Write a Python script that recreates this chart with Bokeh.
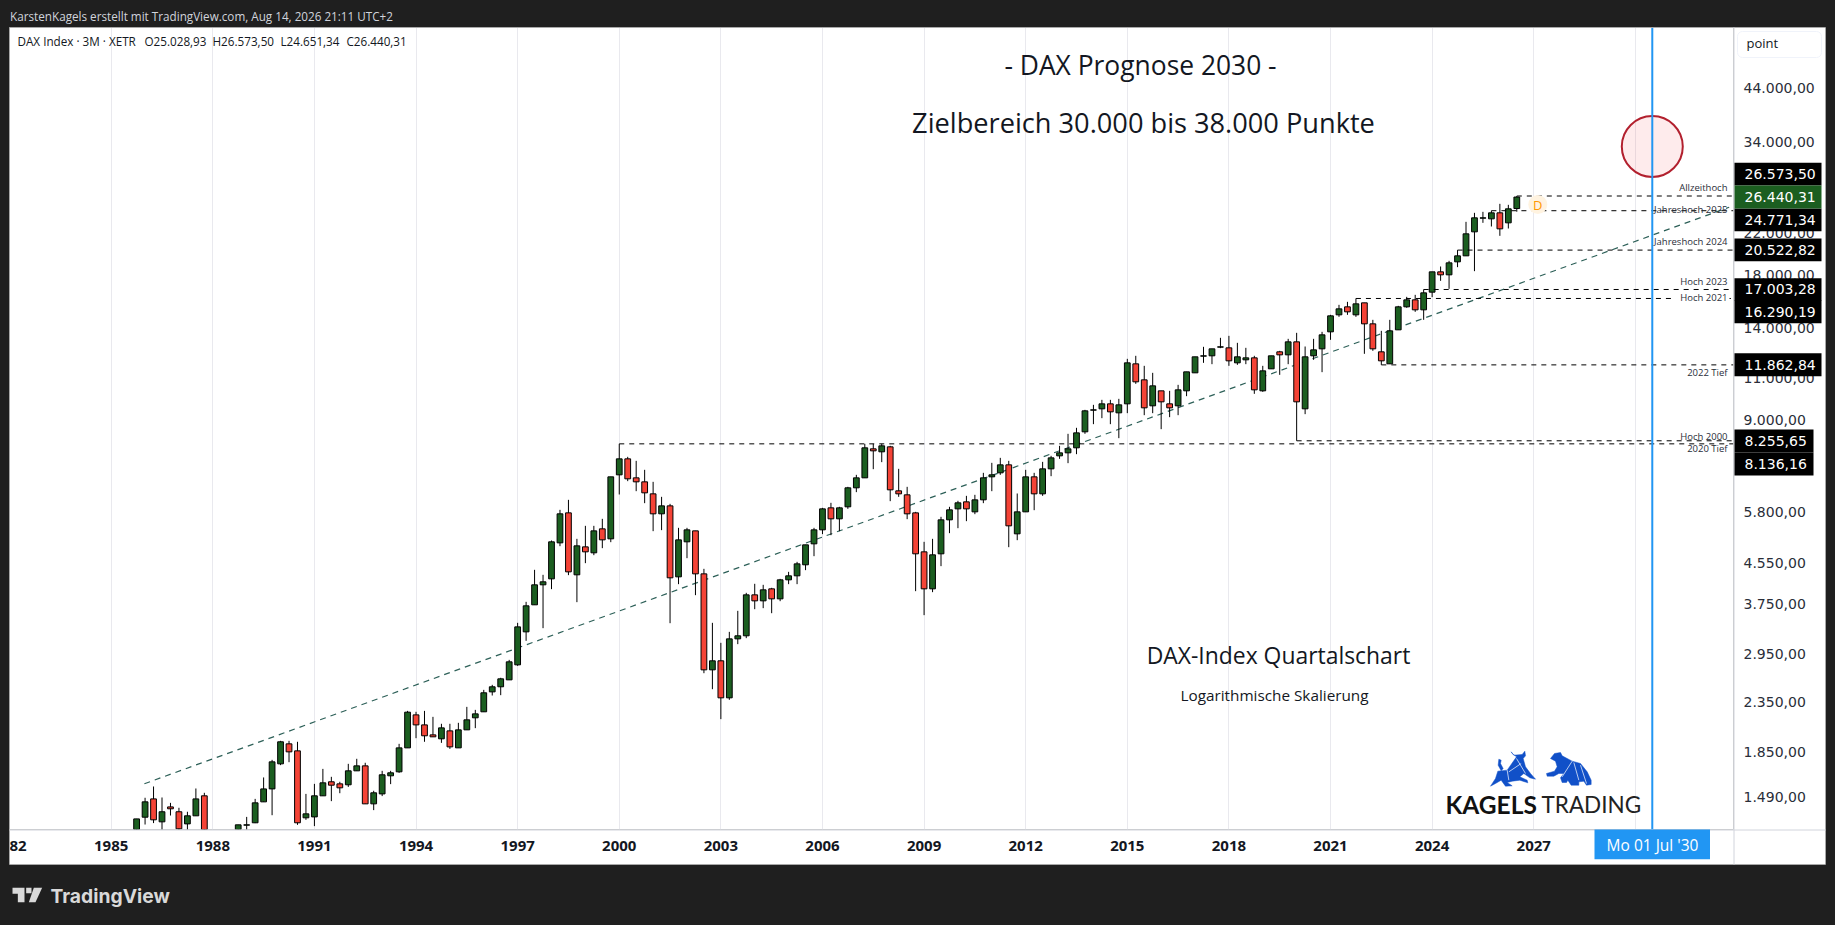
import math
from bokeh.plotting import figure
from bokeh.embed import file_html
from bokeh.resources import INLINE
from bokeh.core.properties import value
from bokeh.models import Span, FixedTicker, Range1d, LogAxis, LogScale

# ---------- data ----------
quarter_index = [*range(3, 12), *range(15, 167)]   # quarters since 1985 Q1
body_top = [1357,1472,1493,1404,1437,1404,1377,1493,1515,
 1319,1319,1465,1566,1782,1961,1942,1878,1390,1515,
 1612,1620,1604,1707,1748,1748,1537,1675,1691,1905,
 2259,2230,2126,2027,2096,2066,2076,2178,2241,2478,
 2550,2649,2873,3395,3754,4150,4210,5096,5825,5852,
 4999,4975,5370,5422,6950,7574,7574,6917,6786,6408,
 6051,6051,5144,5396,5370,4373,2887,2887,3206,3253,
 3956,3956,4052,4071,4250,4332,4587,5023,5396,5965,
 5994,5994,6595,6917,7983,7945,8059,8021,6501,6378,
 5852,4858,4789,5660,5937,6139,6168,6227,6917,7017,
 7360,7360,5880,6950,6950,7221,7610,7794,7945,8575,
 9525,9571,9849,9849,9802,11979,11922,11045,10733,10480,
 9849,10530,11475,12328,12387,12808,12931,12869,12328,12269,
 12269,11530,12387,12626,13243,13243,12328,12747,13693,14994,
 15504,15652,15878,15954,14432,12626,13957,15652,16184,16184,
 16735,18500,18500,19312,19969,22181,23942,23942,24521,24521,24994,26440.31]
body_bottom = [1224,1368,1351,1338,1424,1294,1325,1377,979,
 1224,1317,1332,1472,1566,1765,1869,1332,1364,1370,
 1515,1594,1574,1597,1707,1458,1458,1529,1667,1699,
 1905,2126,2018,2008,1989,1914,1905,2076,2199,2263,
 2489,2550,2636,2832,3315,3772,4150,4270,5071,4415,
 4353,4858,4835,5144,5169,7017,6884,6786,6439,5825,
 5825,4291,4311,5096,4373,2765,2765,2419,2419,3206,
 3253,3844,3844,3881,3881,4250,4332,4566,5047,5396,
 5687,5687,6023,6595,6917,7869,7832,6532,6408,5825,
 4812,4071,4071,4812,5660,5965,5965,5880,6227,6950,
 7084,5500,5294,5880,6408,6408,7221,7683,7794,7983,
 8617,9556,9617,9480,9435,9849,10940,9663,9756,9944,
 9663,9756,10480,11421,12367,12387,12910,12094,11979,12152,
 10530,10480,11641,12446,12446,9944,9617,12387,12808,13891,
 15066,15283,15066,14432,12808,12094,11922,14024,15652,15430,
 15430,16788,18237,18237,19405,19969,22394,23904,23828,22717,23377,25028.93]
high = [1357,1501,1584,1503,1465,1431,1404,1569,1537,
 1319,1370,1493,1654,1799,1970,1970,1961,1529,1604,
 1723,1659,1620,1765,1808,1774,1552,1707,1707,1942,
 2273,2263,2273,2209,2137,2137,2147,2317,2284,2513,
 2574,2662,2900,3461,3826,4458,4353,5128,5937,6227,
 5169,5500,5500,5687,6950,8136.16,7647,7502,7187,6786,
 6317,6109,5448,5448,5370,4479,3461,3146,3315,3665,
 3994,4170,4150,4091,4270,4415,4631,5023,5448,5994,
 6139,6023,6626,7017,8137,8137,8137,8059,7221,6626,
 5880,5096,5169,5742,6023,6198,6347,6378,7084,7431,
 7610,7502,6419,7187,7084,7466,7683,8059,8535,8783,
 9571,9802,10039,10039,10087,12210,12387,11809,11421,10480,
 10480,10785,11475,12328,12931,12808,13499,13628,13180,12869,
 12387,11809,12387,12686,13434,13825,12951,13434,13891,15066,
 15803,16031,16290.19,15954,14710,13957,14710,15727,16418,16576,
 17003.28,18500,18977,19498,20522.82,23489,24521,24638,24771.34,25598,25476,26573.50]
low = [1205,1321,1330,1280,1379,1274,1280,1377,919,
 1205,1274,1330,1472,1381,1754,1779,1319,1351,1311,
 1515,1477,1534,1581,1707,1458,1415,1513,1602,1691,
 1905,1995,1961,2008,1951,1896,1905,2076,2093,2263,
 2446,2450,2636,2818,3176,3772,3374,4065,4991,4346,
 3820,4602,4781,4944,5087,6388,6808,6490,6129,5362,
 5388,3455,4163,4713,3950,2721,2521,2185,2396,3126,
 3217,3694,3712,3624,3838,4163,4163,4451,4758,5286,
 5260,5362,5965,6460,6917,7209,7455,6188,6317,5678,
 4026,3590,4007,4537,5311,5439,5624,5815,6129,6490,
 7017,4967,5136,5880,5927,6347,6972,7574,7419,7745,
 8535,8938,9198,8938,8360,9420,10836,9330,9420,8727,
 9242,9330,10217,11421,11979,11903,12849,11809,11866,11903,
 10331,10430,11641,11312,11903,8255.65,9375,12152,11457,13370,
 14922,15066,14922,12506,12686,11862.84,11922,14024,15578,15283,
 14710,16392,17722,17057,18917,19969,18559,23377,22972,21970,22753,24651.34]
falling_quarters = [5,7,8,11,21,22,26,27,30,36,37,38,40,54,56,58,61,62,63,64,66,69,70,72,76,78,85,90,92,93,94,95,96,
 101,106,109,118,121,122,124,125,132,135,138,140,146,148,149,150,154,157,164]

level_prices = [26573.50, 24771.34, 20522.82, 17003.28, 16290.19, 11862.84, 8255.65, 8136.16]
level_start_quarter = [166, 163, 159, 155, 147, 150, 140, 60]
trend_years = [1985.98, 2032.77]
trend_prices = [1605, 25190]
target_year = 2030.5
target_price = 33660

year_ticks = [1982,1985,1988,1991,1994,1997,2000,2003,2006,2009,2012,2015,2018,2021,2024,2027]
year_tick_labels = ["82","1985","1988","1991","1994","1997","2000","2003","2006","2009","2012","2015","2018","2021","2024","2027"]
grid_years = year_ticks + [2030]
price_ticks = [44000,34000,22000,18000,14000,11000,9000,5800,4550,3750,2950,2350,1850,1490]
price_tick_labels = ["44.000,00","34.000,00","22.000,00","18.000,00","14.000,00","11.000,00","9.000,00","5.800,00","4.550,00","3.750,00","2.950,00","2.350,00","1.850,00","1.490,00"]

# ---------- geometry ----------
def X(px): return 1985 + (px - 110.7) / 33.87
def Y(py): return 26573.5 * math.exp(-(py - 195.5) / 209.4)
CARD_L, CARD_T, CARD_R, CARD_B = 9, 27, 1825, 864
FRAME_R, FRAME_B = 1733, 829
LABEL_LIFT = 2.3      # the price labels sit slightly above their level
DARK = "#1f1f1f"; UP = "#1B5E20"; DOWN = "#F44336"; BLUE = "#2196F3"; INK = "#131722"
UI = "Open Sans"

# ---------- chart ----------
p = figure(width=CARD_R-CARD_L, height=CARD_B-CARD_T, x_range=Range1d(X(CARD_L), X(FRAME_R)), y_range=Range1d(Y(FRAME_B), Y(CARD_T)),
           y_axis_type="log", y_axis_location=None, output_backend="svg", toolbar_location=None,
           min_border_left=0, min_border_top=0, min_border_right=CARD_R-FRAME_R, min_border_bottom=CARD_B-FRAME_B,
           styles={"position": "absolute", "left": f"{CARD_L}px", "top": f"{CARD_T}px"})
p.border_fill_color = "white"
p.background_fill_color = "white"
p.outline_line_color = None
p.xgrid.ticker = FixedTicker(ticks=grid_years)
p.xgrid.grid_line_color = "#e9e9ee"
p.ygrid.visible = False
ax = p.xaxis[0]
ax.ticker = FixedTicker(ticks=year_ticks)
ax.major_label_overrides = dict(zip(year_ticks, year_tick_labels))
ax.major_tick_line_color = None; ax.minor_tick_line_color = None; ax.axis_line_color = None
ax.major_label_text_font = UI; ax.major_label_text_font_style = "bold"
ax.major_label_text_font_size = "15px"; ax.major_label_text_color = INK; ax.major_label_standoff = 5

p.extra_y_ranges = {"labels": Range1d(Y(FRAME_B + LABEL_LIFT), Y(CARD_T + LABEL_LIFT))}
p.extra_y_scales = {"labels": LogScale()}
ay = LogAxis(y_range_name="labels", ticker=FixedTicker(ticks=price_ticks))
ay.major_label_overrides = dict(zip(price_ticks, price_tick_labels))
ay.major_tick_line_color = None; ay.minor_tick_line_color = None; ay.axis_line_color = None
ay.major_label_text_font = "DejaVu Sans"; ay.major_label_text_font_size = "14px"
ay.major_label_text_color = "#2a2e39"; ay.major_label_standoff = 4
p.add_layout(ay, "right")

p.line(trend_years, trend_prices, line_color="#2d6058", line_width=1.2, line_dash="6 5")
p.scatter([target_year], [target_price], marker="circle", size=61, fill_color="#F23645", fill_alpha=0.1,
          line_color="#B2202E", line_width=2)
xs = [1985 + q / 4 for q in quarter_index]
colors = [DOWN if q in falling_quarters else UP for q in quarter_index]
p.segment(xs, high, xs, low, line_color="black", line_width=1)
p.vbar(x=xs, top=body_top, bottom=body_bottom, width=0.17, fill_color=colors, line_color="black", line_width=1)
p.segment([1985 + q / 4 for q in level_start_quarter], level_prices, [X(FRAME_R)] * len(level_prices), level_prices,
          line_color="black", line_width=1, line_dash="5 5")
p.add_layout(Span(location=target_year, dimension="height", line_color=BLUE, line_width=2))

# ---------- overlay in page pixels: tags, texts, logos ----------
q = figure(width=1835, height=925, x_range=Range1d(0, 1835), y_range=Range1d(925, 0), output_backend="svg", toolbar_location=None,
           x_axis_location=None, y_axis_location=None, min_border=0,
           styles={"position": "absolute", "left": "0px", "top": "0px"})
q.border_fill_alpha = 0; q.background_fill_alpha = 0; q.outline_line_color = None; q.grid.visible = False

def text(px, py, s, size, color=INK, font=UI, align="left", style="normal"):
    q.text([px], [py], text=[s], text_font=value(font), text_font_size=size, text_color=color, text_align=align,
           text_baseline="middle", text_font_style=style)
def rect(l, r, t, b, fill, line=None, alpha=1.0):
    q.quad(left=[l], right=[r], top=[t], bottom=[b], fill_color=fill, fill_alpha=alpha, line_color=line, line_width=1)

rect(CARD_L, CARD_R, CARD_T, CARD_B, None, "#a8a8a8", 0)
q.segment([FRAME_R+.5, CARD_L], [CARD_T, FRAME_B+.5], [FRAME_R+.5, CARD_R], [CARD_B, FRAME_B+.5], line_color="#d1d4dc", line_width=1)

# D badge
q.scatter([1537.3], [204], marker="circle", size=19, fill_color="#FFF3E0", line_color=None)
text(1537.3, 204, "D", "13px", "#FF9800", align="center")

# logo
BULL = [(30,143),(45,120),(52,98),(80,95),(108,55),(95,45),(92,40),(100,50),(125,48),(133,38),(135,52),(128,60),(135,85),(150,105),(165,122),(148,118),(130,105),(118,115),(140,125),(142,133),(118,125),(95,128),(80,132),(95,142),(75,143),(62,125),(45,135)]
TAIL = [(55,62),(62,65),(60,75),(68,90),(62,97),(53,80)]
BEAR = [(210,60),(222,45),(240,42),(245,52),(275,68),(300,75),(320,100),(332,125),(332,138),(318,140),(310,128),(295,130),(295,140),(272,140),(262,125),(258,132),(245,132),(240,118),(250,105),(235,105),(220,113),(200,113),(198,105),(222,98),(230,85),(225,68)]
def lx(z): return [1480 + a / 3 for a, _ in z]
def ly(z): return [738 + b / 3 for _, b in z]
q.patches([lx(BULL), lx(TAIL), lx(BEAR)], [ly(BULL), ly(TAIL), ly(BEAR)], fill_color="#1150C8", line_color="#1150C8", line_width=0.5)
FACETS = [((80,95),(85,125)),((108,60),(135,105)),((85,100),(122,75)),((275,68),(245,115)),((280,72),(295,125)),((300,80),(318,135))]
q.multi_line([lx(f) for f in FACETS], [ly(f) for f in FACETS], line_color="white", line_width=0.7)
text(1445, 804, "KAGELS", "24.5px", "#111111", font="Lato", style="bold")
text(1541, 804, "TRADING", "22.5px", "#222222", font="Lato")

# chart texts
text(1140, 64.7, "- DAX Prognose 2030 -", "26.4px", align="center")
text(1143, 122, "Zielbereich 30.000 bis 38.000 Punkte", "27.2px", align="center")
text(1278, 655, "DAX-Index Quartalschart", "22.9px", align="center")
text(1274, 694, "Logarithmische Skalierung", "15.3px", align="center")
for px, s in ((17, "DAX Index · 3M · XETR"), (144, "O25.028,93"), (212, "H26.573,50"), (280, "L24.651,34"), (346, "C26.440,31")):
    text(px, 40.5, s, "11.7px")

NOTES = [("Allzeithoch",186.7),("Jahreshoch 2025",209.3),("Jahreshoch 2024",240.7),("Hoch 2023",280.7),("Hoch 2021",297.3),("2022 Tief",372.3),("Hoch 2000",435.7),("2020 Tief",448.3)]
rect(1671, 1729, 293, 302, "white")
for s, py in NOTES:
    text(1727, py, s, "9.5px", "#2a2e39", align="right")

# price-scale header and level tags
q.quad(left=[1737], right=[1821], top=[31], bottom=[57], fill_color="white", line_color="#f0f3fa", border_radius=5)
text(1746, 42, "point", "13px")
TAGS = [(162.3,185,1821,"26.573,50","black"),(208,230.7,1821,"24.771,34","black"),(238,260.7,1821,"20.522,82","black"),
        (277.7,300,1821,"17.003,28","black"),(299.5,322.7,1821,"16.290,19","black"),(352.7,375.7,1821,"11.862,84","black"),
        (429,452,1813,"8.255,65","black"),(452,475,1813,"8.136,16","black"),(185,208,1821,"26.440,31",UP)]
for t, b, r, s, c in TAGS:
    rect(1734, r, t, b, c)
    text(1744, (t + b) / 2, s, "14px", "white", font="DejaVu Sans")

# date tag
rect(1594, 1709.5, 829, 858.7, BLUE)
text(1652, 844, "Mo 01 Jul '30", "15.5px", "white", align="center")

# page header and footer
text(9.6, 15, "KarstenKagels erstellt mit TradingView.com, Aug 14, 2026 21:11 UTC+2", "11.7px", "#d1d4dc")
text(50, 895, "TradingView", "19.3px", "#d9d9d9", font="Inter", style="bold")
TV = [[(36,52),(72,52),(72,95),(52,95),(52,70),(36,70)], [(100,52),(125,52),(105,95),(85,95)], [(77,52),(93,52),(93,68),(77,68)]]
q.patches([[a / 3 for a, _ in z] for z in TV], [[870 + b / 3 for _, b in z] for z in TV], fill_color="#d9d9d9", line_color=None)

html = file_html([p, q], INLINE)
html = html.replace("</head>", "<style>html,body{background:%s}</style></head>" % DARK)
open("out.html", "w").write(html)
